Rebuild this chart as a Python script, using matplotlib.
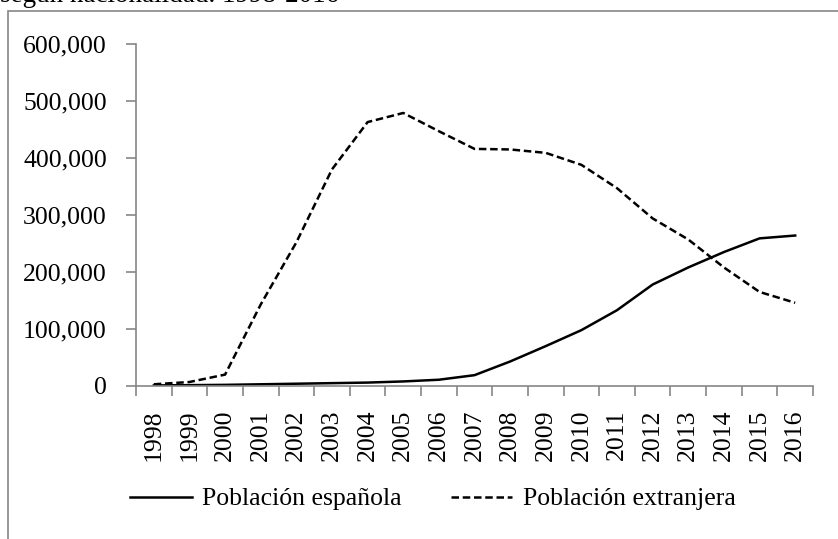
import matplotlib
matplotlib.use("Agg")
import matplotlib.pyplot as plt
from matplotlib.patches import Rectangle

years = [str(y) for y in range(1998, 2017)]
poblacion_espanola = [1000, 1500, 2000, 3000, 4000, 5000, 6000, 8000, 11000, 19000,
                      43000, 70000, 98000, 133000, 178000, 208000, 235000, 259000, 264000]
poblacion_extranjera = [3000, 7000, 20000, 143000, 252000, 380000, 463000, 479000, 447000, 416000,
                        415000, 409000, 388000, 347000, 294000, 257000, 208000, 165000, 146000]
y_ticks = [0, 100000, 200000, 300000, 400000, 500000, 600000]

plt.rcParams["font.family"] = ["Liberation Serif", "DejaVu Serif"]
FS = 18.5
GRAY = "#868686"

W, H = 838, 539
fig = plt.figure(figsize=(W / 100, H / 100), dpi=100)

# outer chart frame (cut by the image edges)
fig.patches.append(Rectangle((8 / W, -0.1), 1.2, 1.1 - 11 / H, transform=fig.transFigure,
                             fill=False, edgecolor=GRAY, linewidth=1.2))

# title sits mostly above the picture, as in the source page
fig.text(0 / W, 1 - 2.5 / H, "según nacionalidad. 1998-2016", fontsize=19.5,
         ha="left", va="baseline")

ax = fig.add_axes([136 / W, 1 - 386 / H, (813 - 136) / W, (386 - 44) / H])
x = list(range(len(years)))
ax.plot(x, poblacion_espanola, color="black", linewidth=1.8, label="Población española")
ax.plot(x, poblacion_extranjera, color="black", linewidth=1.8, dashes=(3, 1.5),
        label="Población extranjera")

ax.set_xlim(-0.5, len(years) - 0.5)
ax.set_ylim(0, 600000)
ax.set_yticks(y_ticks)
ax.set_yticklabels([f"{v:,}" for v in y_ticks], fontsize=FS)
ax.set_xticks(x)
ax.set_xticklabels(years, rotation=90, fontsize=FS)
ax.set_xticks([i - 0.5 for i in range(len(years) + 1)], minor=True)
ax.tick_params(axis="x", which="major", length=0, pad=17)
ax.tick_params(axis="x", which="minor", length=7, color=GRAY, width=1.2, direction="out")
ax.tick_params(axis="y", length=7, color=GRAY, width=1.2, pad=14)

for side in ["top", "right"]:
    ax.spines[side].set_visible(False)
for side in ["left", "bottom"]:
    ax.spines[side].set_color(GRAY)
    ax.spines[side].set_linewidth(1.2)

fig.legend(loc="center", bbox_to_anchor=(433 / W, 1 - 499 / H), ncol=2, frameon=False,
           fontsize=FS, handlelength=2.4, handletextpad=0.4, columnspacing=1.9)

fig.savefig("out.png", dpi=100)
